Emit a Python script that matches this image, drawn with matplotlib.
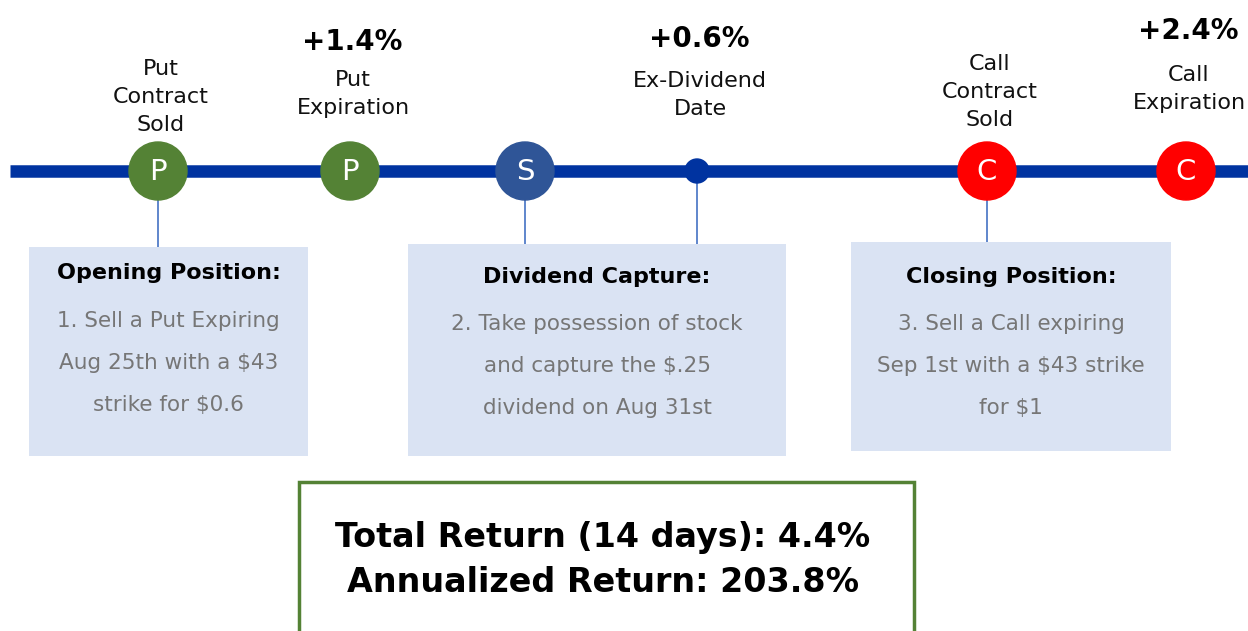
import matplotlib.pyplot as plt
from matplotlib.patches import Circle, Rectangle

# Ereignisse auf der Zeitachse (x in Pixel)
event_x = [158, 350, 525, 697, 987, 1186]
event_letters = ["P", "P", "S", "", "C", "C"]
event_colors = ["#548235", "#548235", "#2F5597", "#0033A0", "#FF0000", "#FF0000"]
event_radius = [29, 29, 29, 12, 29, 29]
event_labels = ["Put\nContract\nSold", "Put\nExpiration", "", "Ex-Dividend\nDate",
                "Call\nContract\nSold", "Call\nExpiration"]
event_label_y = [97, 94, 0, 95, 92, 89]
event_returns = ["", "+1.4%", "", "+0.6%", "", "+2.4%"]
event_return_y = [0, 42, 0, 39, 0, 31]

# Info-Boxen
box_left = [29, 408, 851]
box_right = [308, 786, 1171]
box_top = [247, 244, 242]
box_bottom = [456, 456, 451]
box_titles = ["Opening Position:", "Dividend Capture:", "Closing Position:"]
box_bodies = ["1. Sell a Put Expiring\nAug 25th with a $43\nstrike for $0.6",
              "2. Take possession of stock\nand capture the $.25\ndividend on Aug 31st",
              "3. Sell a Call expiring\nSep 1st with a $43 strike\nfor $1"]
box_title_y = [273, 277, 277]
box_body_y = [363, 366, 366]
# welche Ereignisse mit welcher Box verbunden sind
connectors = [(0, 0), (2, 1), (3, 1), (4, 2)]

summary_lines = ["Total Return (14 days): 4.4%", "Annualized Return: 203.8%"]

W, H = 1248, 631
fig = plt.figure(figsize=(W / 100, H / 100), dpi=100)
ax = fig.add_axes([0, 0, 1, 1])
ax.set_xlim(0, W)
ax.set_ylim(H, 0)
ax.axis("off")

line_y = 171
ax.plot([10, W], [line_y, line_y], color="#0033A0", lw=9, solid_capstyle="butt", zorder=1)

# Verbindungslinien
for ei, bi in connectors:
    ax.plot([event_x[ei], event_x[ei]], [line_y, box_top[bi]], color="#4472C4", lw=1.2, zorder=0)

# Boxen
for i in range(len(box_titles)):
    ax.add_patch(Rectangle((box_left[i], box_top[i]), box_right[i] - box_left[i],
                           box_bottom[i] - box_top[i], facecolor="#DAE3F3", edgecolor="none", zorder=0.5))
    cx = (box_left[i] + box_right[i]) / 2
    ax.text(cx, box_title_y[i], box_titles[i], ha="center", va="center",
            fontsize=16, fontweight="bold", color="black")
    ax.text(cx, box_body_y[i], box_bodies[i], ha="center", va="center",
            fontsize=15.5, color="#767676", linespacing=2.4)

# Kreise und Beschriftungen
for i, x in enumerate(event_x):
    ax.add_patch(Circle((x, line_y), event_radius[i], color=event_colors[i], zorder=2))
    if event_letters[i]:
        ax.text(x, line_y + 1, event_letters[i], ha="center", va="center",
                fontsize=21, color="white", zorder=3)
    if event_labels[i]:
        ax.text(x + 3, event_label_y[i], event_labels[i], ha="center", va="center",
                fontsize=16, color="#111111", linespacing=1.5)
    if event_returns[i]:
        ax.text(x + 2, event_return_y[i], event_returns[i], ha="center", va="center",
                fontsize=20, fontweight="bold", color="black")

# Zusammenfassung
ax.add_patch(Rectangle((299, 482), 615, 200, facecolor="white", edgecolor="#548235", lw=2.5, zorder=1))
ax.text(603, 537, summary_lines[0], ha="center", va="center", fontsize=24, fontweight="bold", zorder=2)
ax.text(603, 582, summary_lines[1], ha="center", va="center", fontsize=24, fontweight="bold", zorder=2)

fig.savefig("out.png", dpi=100)
